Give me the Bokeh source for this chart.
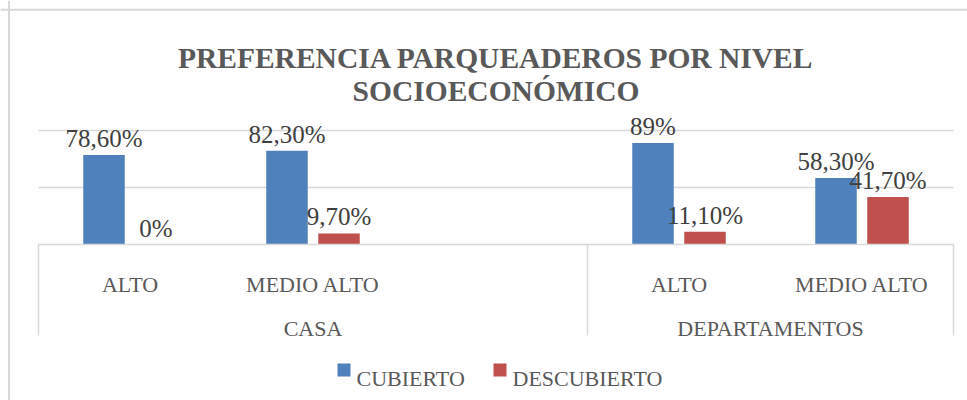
from bokeh.plotting import figure
from bokeh.models import Range1d, ColumnDataSource, Span
from bokeh.core.properties import value
from bokeh.embed import file_html
from bokeh.resources import INLINE

# ---------------- data ----------------
title_lines = ["PREFERENCIA PARQUEADEROS POR NIVEL", "SOCIOECONÓMICO"]
groups = ["CASA", "DEPARTAMENTOS"]
group_sizes = [3, 2]
subcats = ["ALTO", "MEDIO ALTO", "", "ALTO", "MEDIO ALTO"]
series = ["CUBIERTO", "DESCUBIERTO"]
cubierto = [0.786, 0.823, None, 0.89, 0.583]
descubierto = [0.0, 0.097, None, 0.111, 0.417]
cubierto_labels = ["78,60%", "82,30%", "", "89%", "58,30%"]
descubierto_labels = ["0%", "9,70%", "", "11,10%", "41,70%"]
gridline_values = [0.5, 1.0]
colors = ["#4F81BD", "#C0504D"]

# ---------------- layout helpers (page px -> data) ----------------
W, H = 967, 400
PX_X0, SLOT = 38.0, 183.0      # page x of category 0 start, px per category
PX_Y0, UNIT = 244.0, 114.0     # page y of value 0, px per 100%


def X(px):
    return (px - PX_X0) / SLOT


def Y(py):
    return (PX_Y0 - py) / UNIT


p = figure(width=W, height=H, output_backend="svg", toolbar_location=None,
           x_range=Range1d(X(0), X(W)), y_range=Range1d(Y(H), Y(0)),
           x_axis_location=None, y_axis_location=None, min_border=0,
           tools="")
p.grid.visible = False
p.outline_line_color = None
p.background_fill_color = "white"
p.border_fill_color = "white"

FONT = value("Liberation Serif")
n = len(subcats)
GRID_C = "#d9d9d9"

# chart border (left and top)
p.add_layout(Span(location=X(8.5), dimension="height", line_color=GRID_C, line_width=2))
p.add_layout(Span(location=Y(9.3), dimension="width", line_color=GRID_C, line_width=2))

# gridlines
p.segment(x0=[0] * len(gridline_values), x1=[n] * len(gridline_values),
          y0=gridline_values, y1=gridline_values, line_color=GRID_C, line_width=1.5)

# bars
off = 26.0 / SLOT
bw = 41.5 / SLOT
for vals, labs, col, sign in [(cubierto, cubierto_labels, colors[0], -1),
                              (descubierto, descubierto_labels, colors[1], 1)]:
    xs = [i + 0.5 + sign * off for i, v in enumerate(vals) if v is not None]
    ys = [v for v in vals if v is not None]
    ls = [l for v, l in zip(vals, labs) if v is not None]
    src = ColumnDataSource(dict(x=xs, top=ys, lab=ls))
    p.vbar(x="x", top="top", bottom=0, width=bw, source=src,
           fill_color=col, line_color=None)
    p.text(x="x", y="top", text="lab", source=src, y_offset=-16.5,
           text_align="center", text_baseline="alphabetic",
           text_font=FONT, text_font_size="25px", text_color="#404040")

# category axis box
ax_bottom = Y(335)
p.segment(x0=[0], x1=[n], y0=[0], y1=[0], line_color=GRID_C, line_width=1.5)
bounds = [0]
for s in group_sizes:
    bounds.append(bounds[-1] + s)
p.segment(x0=bounds, x1=bounds, y0=[0] * len(bounds), y1=[ax_bottom] * len(bounds),
          line_color=GRID_C, line_width=1.5)

# subcategory labels
p.text(x=[i + 0.5 for i in range(n)], y=[Y(284)] * n, text=subcats,
       text_align="center", text_baseline="alphabetic",
       text_font=FONT, text_font_size="22px", text_color="#595959")
# group labels
gcent = [(bounds[i] + bounds[i + 1]) / 2 for i in range(len(groups))]
p.text(x=gcent, y=[Y(328)] * len(groups), text=groups,
       text_align="center", text_baseline="alphabetic",
       text_font=FONT, text_font_size="22px", text_color="#595959")

# title
p.text(x=[X(495.5)] * 2, y=[Y(57), Y(90)], text=title_lines,
       text_align="center", text_baseline="alphabetic",
       text_font=FONT, text_font_style="bold", text_font_size="29.5px",
       text_color="#595959")

# legend
leg_sq_x = [X(343.5), X(499.5)]
leg_tx_x = [X(356), X(512)]
p.scatter(x=leg_sq_x, y=[Y(369.5)] * 2, marker="square", size=13,
          fill_color=colors, line_color=None)
p.text(x=leg_tx_x, y=[Y(378)] * 2, text=series,
       text_align="left", text_baseline="alphabetic",
       text_font=FONT, text_font_size="22px", text_color="#595959")

open("out.html", "w").write(file_html(p, INLINE))
